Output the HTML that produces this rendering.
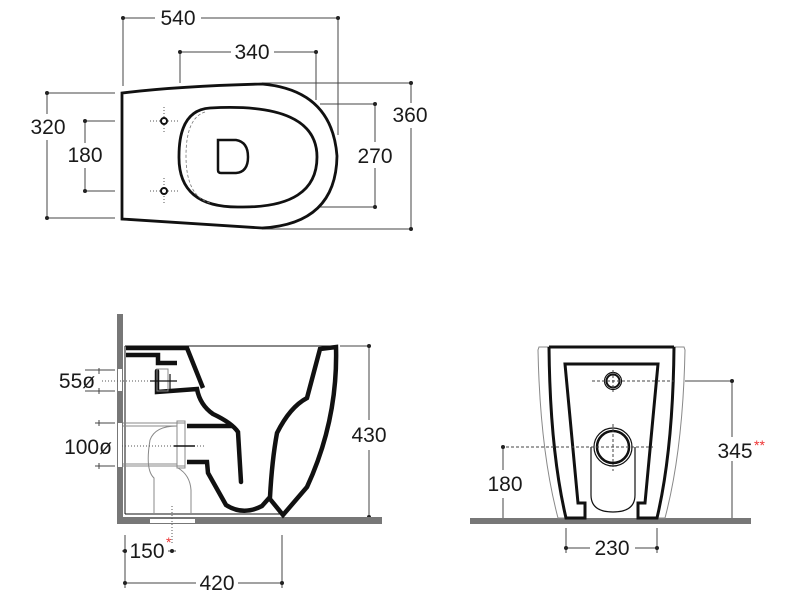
<!DOCTYPE html>
<html><head><style>
html,body{margin:0;padding:0;background:#fff;width:800px;height:600px;overflow:hidden}
svg{display:block}
text{font-family:"Liberation Sans",sans-serif;font-size:21px;fill:#1a1a1a}
</style></head><body>
<svg width="800" height="600" viewBox="0 0 800 600" xmlns="http://www.w3.org/2000/svg">
<g stroke="#444" stroke-width="1" fill="none">
 <line x1="123" y1="18" x2="155" y2="18"/><line x1="201" y1="18" x2="338" y2="18"/>
 <line x1="123" y1="18" x2="123" y2="86"/><line x1="338" y1="18" x2="338" y2="135"/>
 <line x1="180" y1="52" x2="231" y2="52"/><line x1="274" y1="52" x2="316" y2="52"/>
 <line x1="180" y1="52" x2="180" y2="83"/><line x1="316" y1="52" x2="316" y2="100"/>
 <line x1="262" y1="83" x2="411" y2="83"/><line x1="262" y1="229" x2="411" y2="229"/>
 <line x1="411" y1="83" x2="411" y2="103"/><line x1="411" y1="128" x2="411" y2="229"/>
 <line x1="320" y1="104" x2="375" y2="104"/><line x1="320" y1="207" x2="375" y2="207"/>
 <line x1="375" y1="104" x2="375" y2="142"/><line x1="375" y1="168" x2="375" y2="207"/>
 <line x1="47" y1="93" x2="115" y2="93"/><line x1="47" y1="218" x2="115" y2="218"/>
 <line x1="47" y1="93" x2="47" y2="114"/><line x1="47" y1="140" x2="47" y2="218"/>
 <line x1="85" y1="121" x2="115" y2="121"/><line x1="85" y1="191" x2="115" y2="191"/>
 <line x1="85" y1="121" x2="85" y2="143"/><line x1="85" y1="168" x2="85" y2="191"/>
 <line x1="340" y1="346" x2="369" y2="346"/><line x1="369" y1="346" x2="369" y2="420"/><line x1="369" y1="450" x2="369" y2="517"/>
 <line x1="85" y1="370" x2="115" y2="370"/><line x1="85" y1="391" x2="115" y2="391"/>
 <line x1="99" y1="368" x2="99" y2="374"/><line x1="99" y1="388" x2="99" y2="394"/>
 <line x1="95" y1="423" x2="115" y2="423"/><line x1="95" y1="466" x2="115" y2="466"/>
 <line x1="99" y1="420" x2="99" y2="426"/><line x1="99" y1="463" x2="99" y2="469"/>
 <line x1="125" y1="535" x2="125" y2="588"/><line x1="282" y1="535" x2="282" y2="588"/>
 <line x1="125" y1="583" x2="196" y2="583"/><line x1="238" y1="583" x2="282" y2="583"/>
 <line x1="122" y1="551" x2="127" y2="551"/><line x1="168" y1="551" x2="176" y2="551"/>
 <line x1="685" y1="381" x2="732" y2="381"/><line x1="732" y1="381" x2="732" y2="437"/><line x1="732" y1="461" x2="732" y2="518"/>
 <line x1="503" y1="447" x2="503" y2="470"/><line x1="503" y1="498" x2="503" y2="518"/>
 <line x1="566" y1="528" x2="566" y2="553"/><line x1="657" y1="528" x2="657" y2="553"/>
 <line x1="566" y1="548" x2="590" y2="548"/><line x1="635" y1="548" x2="657" y2="548"/>
</g>
<g fill="#222">
 <circle cx="123" cy="18" r="2"/><circle cx="338" cy="18" r="2"/><circle cx="180" cy="52" r="2"/><circle cx="316" cy="52" r="2"/>
 <circle cx="411" cy="83" r="2"/><circle cx="411" cy="229" r="2"/><circle cx="375" cy="104" r="2"/><circle cx="375" cy="207" r="2"/>
 <circle cx="47" cy="93" r="2"/><circle cx="47" cy="218" r="2"/><circle cx="85" cy="121" r="2"/><circle cx="85" cy="191" r="2"/>
 <circle cx="369" cy="346" r="2"/><circle cx="369" cy="517" r="2"/><circle cx="125" cy="583" r="2"/><circle cx="282" cy="583" r="2"/>
 <circle cx="125" cy="551" r="2"/><circle cx="172" cy="551" r="2"/>
 <circle cx="732" cy="381" r="2"/><circle cx="503" cy="447" r="2"/><circle cx="566" cy="548" r="2"/><circle cx="657" cy="548" r="2"/>
</g>
<path d="M122,93 L122,219 Q180,223 262,228 Q336,224 337,156 Q332,90 262,84 Q180,86 122,93 Z" fill="none" stroke="#111" stroke-width="2.8"/>
<path d="M210,108 Q317,102 317,157 Q317,208 240,207 Q178,208 179,156 Q179,110 210,108 Z" fill="none" stroke="#111" stroke-width="2.8"/>
<path d="M205,112 Q186,118 186,156 Q186,196 210,203" fill="none" stroke="#777" stroke-width="0.8" stroke-dasharray="3,2"/>
<path d="M218,140 L236,140 Q248,142 248,157 Q248,172 236,173 L221,173 Q218,173 218,170 Z" fill="none" stroke="#111" stroke-width="2.5"/>
<g stroke="#555" stroke-width="1" stroke-dasharray="1,2"><line x1="150" y1="121" x2="178" y2="121"/><line x1="164" y1="107" x2="164" y2="134"/><line x1="150" y1="191" x2="178" y2="191"/><line x1="164" y1="178" x2="164" y2="205"/></g>
<circle cx="164" cy="121" r="3" fill="#fff" stroke="#111" stroke-width="2"/><circle cx="164" cy="191" r="3" fill="#fff" stroke="#111" stroke-width="2"/>
<rect x="117" y="314" width="6" height="210" fill="#777"/>
<rect x="117" y="517" width="265" height="7" fill="#777"/>
<rect x="150" y="519" width="45" height="4" fill="#fff"/>
<rect x="118" y="369" width="4" height="22" fill="#fff"/>
<rect x="118" y="423" width="4" height="44" fill="#fff"/>
<line x1="125" y1="346" x2="336" y2="346" stroke="#111" stroke-width="1"/>
<line x1="125" y1="514" x2="283" y2="514" stroke="#111" stroke-width="1"/>
<line x1="125" y1="346" x2="125" y2="514" stroke="#111" stroke-width="1"/>
<g fill="none" stroke="#111" stroke-width="4.5" stroke-linejoin="miter">
 <path d="M126,348 L187,348 L203,388"/>
 <path d="M126,355 L158,355 L158,363 L177,363"/>
 <path d="M157,371 L157,392 L197,389 Q200,405 213,414 Q232,423 238,432 L241,482" stroke-linecap="round"/>
 <path d="M187,426 L233,426"/>
 <path d="M187,462 L207,462 L208,473 L226,505 Q243,516 262,506 L270,497 Q272,460 277,433 Q290,407 307,398 Q313,375 320,349 L336,347 Q338,420 307,487 L283,515 L270,499"/>
</g>
<g fill="none" stroke="#888" stroke-width="1">
 <line x1="123" y1="423" x2="185" y2="423"/><line x1="123" y1="466" x2="185" y2="466"/>
 <line x1="123" y1="426" x2="177" y2="426"/><line x1="123" y1="464" x2="177" y2="464"/>
 <rect x="177" y="421" width="8" height="47"/>
 <path d="M177,426 Q155,426 150,440 Q145,470 154,478 L154,514"/>
 <path d="M178,468 Q190,475 191,490 L191,514"/>
 <rect x="157" y="369" width="11" height="22"/>
</g>
<g stroke="#555" stroke-width="1" stroke-dasharray="1,2">
 <line x1="102" y1="381" x2="150" y2="381"/><line x1="122" y1="446" x2="205" y2="446"/><line x1="172" y1="506" x2="172" y2="545"/>
</g>
<line x1="150" y1="381" x2="177" y2="381" stroke="#111" stroke-width="1.2"/>
<line x1="170" y1="374" x2="170" y2="389" stroke="#111" stroke-width="1.2"/>
<line x1="174" y1="446" x2="195" y2="446" stroke="#111" stroke-width="1.5"/>
<rect x="470" y="518" width="281" height="6" fill="#777"/>
<path d="M539,347 L549,347 Q550,450 566,518 L558,518 Q540,450 538,350 Z" fill="none" stroke="#888" stroke-width="1"/>
<path d="M684,347 L674,347 Q673,450 657,518 L665,518 Q683,450 685,350 Z" fill="none" stroke="#888" stroke-width="1"/>
<g fill="none" stroke="#111" stroke-width="3">
 <path d="M549,347 L674,347"/>
 <path d="M549,347 Q550,450 566,518 L585,518 L585,503 L578,503 L565,364 L658,364 L645,503 L638,503 L638,518 L657,518 Q673,450 674,347"/>
</g>
<path d="M591,447 L591,495 Q591,512 613,512 Q635,512 635,495 L635,447" fill="none" stroke="#111" stroke-width="1.2"/>
<circle cx="613" cy="447" r="19" fill="#fff" stroke="#111" stroke-width="1.2"/>
<circle cx="613" cy="447" r="16" fill="none" stroke="#111" stroke-width="2.5"/>
<circle cx="613" cy="381" r="8.5" fill="none" stroke="#111" stroke-width="1.2"/>
<circle cx="613" cy="381" r="6.5" fill="none" stroke="#111" stroke-width="2"/>
<g stroke="#444" stroke-width="1" stroke-dasharray="3,2">
 <line x1="592" y1="381" x2="677" y2="381"/><line x1="506" y1="447" x2="653" y2="447"/>
 <line x1="613" y1="370" x2="613" y2="392"/><line x1="613" y1="424" x2="613" y2="471"/>
</g>
<text x="178" y="25" text-anchor="middle">540</text>
<text x="252" y="59" text-anchor="middle">340</text>
<text x="410" y="122" text-anchor="middle">360</text>
<text x="375" y="163" text-anchor="middle">270</text>
<text x="48" y="134" text-anchor="middle">320</text>
<text x="85" y="162" text-anchor="middle">180</text>
<text x="369" y="442" text-anchor="middle">430</text>
<text x="77" y="388" text-anchor="middle">55ø</text>
<text x="88" y="454" text-anchor="middle">100ø</text>
<text x="147" y="558" text-anchor="middle">150</text><text x="166" y="547" style="font-size:14px;fill:#e33">*</text>
<text x="217" y="590" text-anchor="middle">420</text>
<text x="735" y="458" text-anchor="middle">345</text><text x="754" y="450" style="font-size:14px;fill:#e33">**</text>
<text x="505" y="491" text-anchor="middle">180</text>
<text x="612" y="555" text-anchor="middle">230</text>
</svg>
</body></html>
